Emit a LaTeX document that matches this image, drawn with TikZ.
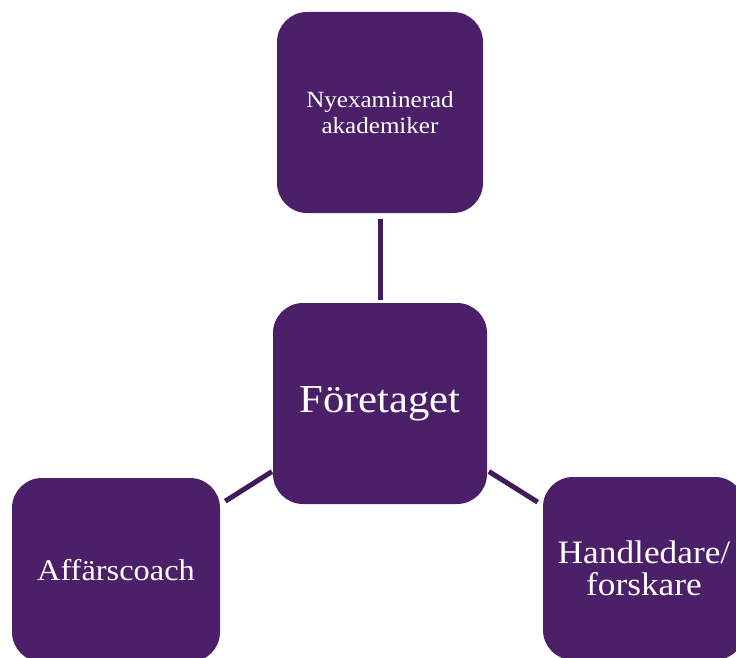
\documentclass[tikz,border=0pt]{standalone}
\usepackage{fontspec}
\setmainfont[FakeStretch=1.08]{Liberation Serif}
\definecolor{boxpurple}{RGB}{75,32,104}
\definecolor{linepurple}{RGB}{64,26,90}
\begin{document}
\begin{tikzpicture}[x=1pt,y=-1pt,
  box/.style={rectangle, fill=boxpurple, rounded corners=30pt, text=white, align=center, inner sep=0pt},
  conn/.style={draw=linepurple, line width=5pt}]
\useasboundingbox (0,0) rectangle (736,658);
\clip (0,0) rectangle (736,658);
\node[box, minimum width=206pt, minimum height=201pt, font=\fontsize{23.2}{25.5}\selectfont] (top) at (380,112.5) {Nyexaminerad\\akademiker};
\node[box, minimum width=214pt, minimum height=201pt, font=\fontsize{39.6}{42}\selectfont] (center) at (380,403.5) {Företaget};
\node[box, minimum width=208pt, minimum height=184pt, font=\fontsize{30}{32}\selectfont] (left) at (116,570) {Affärscoach};
\node[box, minimum width=202pt, minimum height=183pt, font=\fontsize{32.7}{32.5}\selectfont] (right) at (644,568.5) {Handledare/\\forskare};
\draw[conn, shorten <=6pt, shorten >=3pt] (top) -- (center);
\draw[conn, shorten <=6pt, shorten >=1pt] (left) -- (center);
\draw[conn, shorten <=2pt, shorten >=6pt] (center) -- (right);
\end{tikzpicture}
\end{document}
